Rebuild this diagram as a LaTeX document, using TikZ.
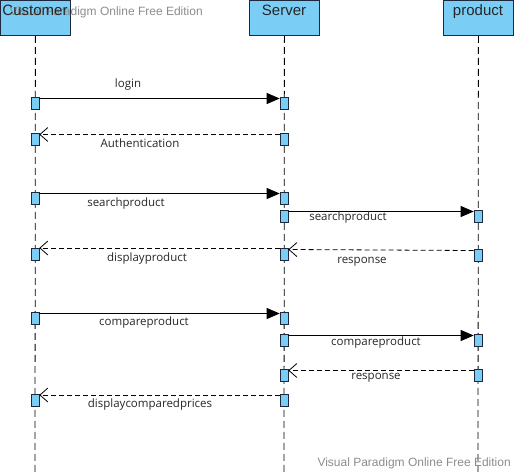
\documentclass[tikz,border=0pt]{standalone}
\usepackage{fontspec}
\setmainfont{Liberation Sans}
\newfontfamily\msgfont{Open Sans}
\usetikzlibrary{arrows.meta}
\definecolor{lifeblue}{RGB}{122,206,245}
\definecolor{edge}{RGB}{30,40,60}
\begin{document}
\begin{tikzpicture}[x=1pt,y=-1pt,
  head/.style={draw=edge,fill=lifeblue,minimum width=70pt,minimum height=35pt,inner sep=0pt,line width=0.8pt},
  headtext/.style={font=\fontsize{15}{15}\selectfont,text=black!85},
  lifeline/.style={draw=black,dash pattern=on 7pt off 4pt,line width=0.8pt},
  act/.style={draw=edge,fill=lifeblue,minimum width=8pt,minimum height=12pt,inner sep=0pt,line width=0.6pt},
  call/.style={draw=black,line width=0.8pt,-{Triangle[length=13pt,width=11pt]}},
  reply/.style={draw=black,line width=0.8pt,dash pattern=on 5pt off 3pt,-{Straight Barb[length=8pt,width=14pt,line width=0.8pt]}},
  msg/.style={font=\msgfont\fontsize{11.5}{11.5}\selectfont,text=black!85},
  watermark/.style={font=\fontsize{12}{12}\selectfont,text=black!45}
]
\useasboundingbox (0,0) rectangle (514,472);

% lifelines
\coordinate (cb) at (35,472);
\coordinate (sb) at (284,472);
\coordinate (pb) at (478,472);
\node[head,anchor=north west] (cust) at (0,0) {};
\node[head,anchor=north west] (serv) at (249,0) {};
\node[head,anchor=north west] (prod) at (443,0) {};
\draw[lifeline] (cust.south) -- (cb);
\draw[lifeline] (serv.south) -- (sb);
\draw[lifeline] (prod.south) -- (pb);

% watermark under the header labels
\node[watermark,anchor=west] (w1) at (6,12) {Visual Paradigm Online Free Edition};
\node[headtext,anchor=north] (custt) at (35,1) {Customer};
\node[headtext,anchor=north] (servt) at (284,1) {Server};
\node[headtext,anchor=north] (prodt) at (478,1) {product};

% activations: customer
\node[act,anchor=north] (c1) at (35,97) {};
\node[act,anchor=north] (c2) at (35,133) {};
\node[act,anchor=north] (c3) at (35,192) {};
\node[act,anchor=north] (c4) at (35,248) {};
\node[act,anchor=north] (c5) at (35,312) {};
\node[act,anchor=north] (c6) at (35,394) {};
% activations: server
\node[act,anchor=north] (s1) at (284,97) {};
\node[act,anchor=north] (s2) at (284,133) {};
\node[act,anchor=north] (s3) at (284,192) {};
\node[act,anchor=north] (s4) at (284,210) {};
\node[act,anchor=north] (s5) at (284,248) {};
\node[act,anchor=north] (s6) at (284,312) {};
\node[act,anchor=north] (s7) at (284,334) {};
\node[act,anchor=north] (s8) at (284,369) {};
\node[act,anchor=north] (s9) at (284,394) {};
% activations: product
\node[act,anchor=north] (p1) at (478,210) {};
\node[act,anchor=north] (p2) at (478,249) {};
\node[act,anchor=north] (p3) at (478,334) {};
\node[act,anchor=north] (p4) at (478,369) {};

% messages
\draw[call] ([yshift=-1.5pt]c1.north east) -- ([yshift=-1.5pt]s1.north west);
\node[msg] (m1) at (128,85) {login};
\draw[reply] ([yshift=-1.5pt]s2.north west) -- ([yshift=-1.5pt]c2.north east);
\node[msg] (m2) at (140,143) {Authentication};
\draw[call] ([yshift=-1.5pt]c3.north east) -- ([yshift=-1.5pt]s3.north west);
\node[msg] (m3) at (126,204) {searchproduct};
\draw[call] ([yshift=-1.5pt]s4.north east) -- ([yshift=-1.5pt]p1.north west);
\node[msg] (m4) at (348,218) {searchproduct};
\draw[reply] ([yshift=-1.5pt]p2.north west) -- ([yshift=-1.5pt]s5.north east);
\node[msg] (m5) at (362,262) {response};
\draw[reply] ([yshift=0pt]s5.north west) -- ([yshift=0pt]c4.north east);
\node[msg] (m6) at (147,259) {displayproduct};
\draw[call] ([yshift=-1.5pt]c5.north east) -- ([yshift=-1.5pt]s6.north west);
\node[msg] (m7) at (144,323) {compareproduct};
\draw[call] ([yshift=-1.5pt]s7.north east) -- ([yshift=-1.5pt]p3.north west);
\node[msg] (m8) at (376,343) {compareproduct};
\draw[reply] ([yshift=-1.5pt]p4.north west) -- ([yshift=-1.5pt]s8.north east);
\node[msg] (m9) at (376,378) {response};
\draw[reply] ([yshift=-1pt]s9.north west) -- ([yshift=-1pt]c6.north east);
\node[msg] (m10) at (150,405) {displaycomparedprices};

% footer watermark
\node[watermark,anchor=west] (w2) at (314,463) {Visual Paradigm Online Free Edition};
\end{tikzpicture}
\end{document}
